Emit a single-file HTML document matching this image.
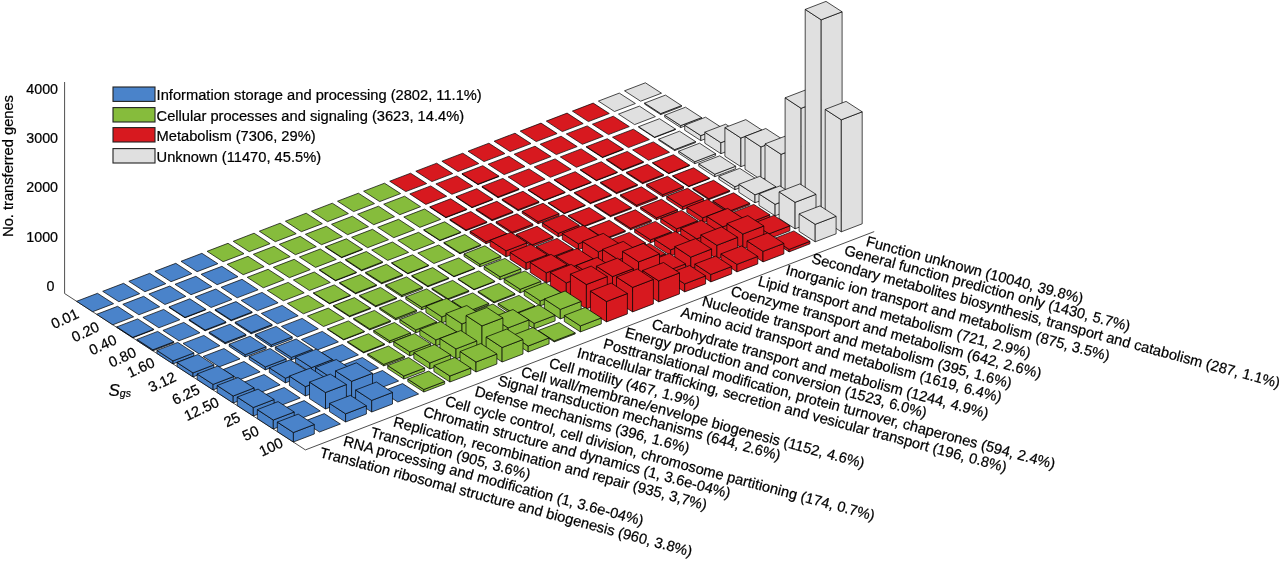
<!DOCTYPE html>
<html><head><meta charset="utf-8"><title>Transferred genes by functional category</title>
<style>
html,body{margin:0;padding:0;background:#fff;}
body{width:1280px;height:561px;overflow:hidden;}
svg{display:block;}
text{font-family:"Liberation Sans",Arial,sans-serif;fill:#000;stroke:#000;stroke-width:0.22px;}
</style></head><body>
<svg width="1280" height="561" viewBox="0 0 1280 561">
<rect width="1280" height="561" fill="#fff"/>
<line x1="64.6" y1="293.5" x2="64.6" y2="82.0" stroke="#3a3a3a" stroke-width="0.9"/>
<line x1="64.6" y1="293.5" x2="305.4" y2="449.9" stroke="#3a3a3a" stroke-width="0.9"/>
<line x1="305.4" y1="449.9" x2="874.2" y2="231.6" stroke="#3a3a3a" stroke-width="0.9"/>
<g stroke="#000" stroke-width="0.7" stroke-linejoin="round">
<polygon points="624.5,90.8 645.4,82.8 661.5,93.2 640.6,101.2" fill="#e0e0e0"/>
<polygon points="598.4,101.1 619.3,93.1 635.4,103.5 614.5,111.5" fill="#e0e0e0"/>
<polygon points="572.4,111.1 593.2,103.1 609.3,113.5 588.4,121.6" fill="#d7191f"/>
<polygon points="546.3,121.1 567.1,113.1 583.2,123.6 562.3,131.6" fill="#d7191f"/>
<polygon points="520.2,131.1 541.0,123.1 557.1,133.6 536.2,141.6" fill="#d7191f"/>
<polygon points="494.1,141.2 515.0,133.2 531.0,143.6 510.1,151.6" fill="#d7191f"/>
<polygon points="468.0,151.2 488.9,143.2 504.9,153.6 484.0,161.6" fill="#d7191f"/>
<polygon points="441.9,161.2 462.8,153.2 478.8,163.6 458.0,171.6" fill="#d7191f"/>
<polygon points="415.8,171.2 436.7,163.2 452.7,173.6 431.9,181.6" fill="#d7191f"/>
<polygon points="389.7,181.2 410.6,173.2 426.7,183.6 405.8,191.6" fill="#d7191f"/>
<polygon points="363.6,191.2 384.5,183.2 400.6,193.6 379.7,201.6" fill="#86bc3c"/>
<polygon points="337.5,201.2 358.4,193.2 374.5,203.6 353.6,211.6" fill="#86bc3c"/>
<polygon points="311.5,211.2 332.3,203.2 348.4,213.6 327.5,221.7" fill="#86bc3c"/>
<polygon points="285.4,221.2 306.2,213.2 322.3,223.7 301.4,231.7" fill="#86bc3c"/>
<polygon points="259.3,231.2 280.1,223.2 296.2,233.7 275.3,241.7" fill="#86bc3c"/>
<polygon points="233.2,241.3 254.1,233.2 270.1,243.7 249.2,251.7" fill="#86bc3c"/>
<polygon points="207.1,251.3 228.0,243.3 244.0,253.7 223.1,261.7" fill="#86bc3c"/>
<polygon points="181.0,261.3 201.9,253.3 217.9,263.7 197.1,271.7" fill="#4a83ca"/>
<polygon points="154.9,271.3 175.8,263.3 191.8,273.7 171.0,281.7" fill="#4a83ca"/>
<polygon points="128.8,281.3 149.7,273.3 165.8,283.7 144.9,291.7" fill="#4a83ca"/>
<polygon points="102.7,291.3 123.6,283.3 139.7,293.7 118.8,301.7" fill="#4a83ca"/>
<polygon points="76.6,301.3 97.5,293.3 113.6,303.7 92.7,311.7" fill="#4a83ca"/>
<polygon points="644.6,104.1 660.7,114.6 660.7,113.6 644.6,103.1" fill="#e0e0e0"/>
<polygon points="660.7,114.6 681.5,106.6 681.5,105.6 660.7,113.6" fill="#e0e0e0"/>
<polygon points="644.6,103.1 665.5,95.1 681.5,105.6 660.7,113.6" fill="#e0e0e0"/>
<polygon points="618.5,114.1 639.4,106.1 655.4,116.6 634.6,124.6" fill="#e0e0e0"/>
<polygon points="592.4,124.2 613.3,116.2 629.3,126.6 608.5,134.6" fill="#d7191f"/>
<polygon points="566.3,133.9 587.2,125.9 603.3,136.3 582.4,144.3" fill="#d7191f"/>
<polygon points="540.2,144.2 561.1,136.2 577.2,146.6 556.3,154.6" fill="#d7191f"/>
<polygon points="514.2,154.2 535.0,146.2 551.1,156.6 530.2,164.6" fill="#d7191f"/>
<polygon points="488.1,164.2 508.9,156.2 525.0,166.6 504.1,174.6" fill="#d7191f"/>
<polygon points="462.0,174.2 478.0,184.6 478.0,184.1 462.0,173.7" fill="#d7191f"/>
<polygon points="478.0,184.6 498.9,176.6 498.9,176.1 478.0,184.1" fill="#d7191f"/>
<polygon points="462.0,173.7 482.8,165.7 498.9,176.1 478.0,184.1" fill="#d7191f"/>
<polygon points="435.9,183.9 456.8,175.9 472.8,186.3 451.9,194.3" fill="#d7191f"/>
<polygon points="409.8,193.9 430.7,185.9 446.7,196.3 425.8,204.4" fill="#d7191f"/>
<polygon points="383.7,204.2 404.6,196.2 420.6,206.7 399.8,214.7" fill="#86bc3c"/>
<polygon points="357.6,214.2 378.5,206.2 394.5,216.7 373.7,224.7" fill="#86bc3c"/>
<polygon points="331.5,224.3 352.4,216.2 368.5,226.7 347.6,234.7" fill="#86bc3c"/>
<polygon points="305.4,234.3 326.3,226.3 342.4,236.7 321.5,244.7" fill="#86bc3c"/>
<polygon points="279.3,244.3 300.2,236.3 316.3,246.7 295.4,254.7" fill="#86bc3c"/>
<polygon points="253.3,254.3 274.1,246.3 290.2,256.7 269.3,264.7" fill="#86bc3c"/>
<polygon points="227.2,264.3 248.0,256.3 264.1,266.7 243.2,274.7" fill="#86bc3c"/>
<polygon points="201.1,274.3 221.9,266.3 238.0,276.7 217.1,284.7" fill="#4a83ca"/>
<polygon points="175.0,284.3 195.9,276.3 211.9,286.7 191.0,294.7" fill="#4a83ca"/>
<polygon points="148.9,294.0 169.8,286.0 185.8,296.4 164.9,304.5" fill="#4a83ca"/>
<polygon points="122.8,304.3 143.7,296.3 159.7,306.8 138.9,314.8" fill="#4a83ca"/>
<polygon points="96.7,314.3 117.6,306.3 133.6,316.8 112.8,324.8" fill="#4a83ca"/>
<polygon points="664.7,117.2 680.7,127.6 680.7,125.6 664.7,115.2" fill="#e0e0e0"/>
<polygon points="680.7,127.6 701.6,119.6 701.6,117.6 680.7,125.6" fill="#e0e0e0"/>
<polygon points="664.7,115.2 685.5,107.2 701.6,117.6 680.7,125.6" fill="#e0e0e0"/>
<polygon points="638.6,127.2 654.6,137.6 654.6,137.1 638.6,126.7" fill="#e0e0e0"/>
<polygon points="654.6,137.6 675.5,129.6 675.5,129.1 654.6,137.1" fill="#e0e0e0"/>
<polygon points="638.6,126.7 659.5,118.7 675.5,129.1 654.6,137.1" fill="#e0e0e0"/>
<polygon points="612.5,137.2 633.4,129.2 649.4,139.6 628.5,147.6" fill="#d7191f"/>
<polygon points="586.4,147.2 602.5,157.6 602.5,157.1 586.4,146.7" fill="#d7191f"/>
<polygon points="602.5,157.6 623.3,149.6 623.3,149.1 602.5,157.1" fill="#d7191f"/>
<polygon points="586.4,146.7 607.3,138.7 623.3,149.1 602.5,157.1" fill="#d7191f"/>
<polygon points="560.3,156.9 581.2,148.9 597.2,159.3 576.4,167.3" fill="#d7191f"/>
<polygon points="534.2,166.9 555.1,158.9 571.1,169.3 550.3,177.3" fill="#d7191f"/>
<polygon points="508.1,176.9 529.0,168.9 545.1,179.3 524.2,187.4" fill="#d7191f"/>
<polygon points="482.0,187.2 498.1,197.7 498.1,196.9 482.0,186.4" fill="#d7191f"/>
<polygon points="498.1,197.7 519.0,189.7 519.0,188.9 498.1,196.9" fill="#d7191f"/>
<polygon points="482.0,186.4 502.9,178.4 519.0,188.9 498.1,196.9" fill="#d7191f"/>
<polygon points="456.0,197.2 472.0,207.7 472.0,207.2 456.0,196.7" fill="#d7191f"/>
<polygon points="472.0,207.7 492.9,199.7 492.9,199.2 472.0,207.2" fill="#d7191f"/>
<polygon points="456.0,196.7 476.8,188.7 492.9,199.2 472.0,207.2" fill="#d7191f"/>
<polygon points="429.9,207.3 445.9,217.7 445.9,217.2 429.9,206.8" fill="#d7191f"/>
<polygon points="445.9,217.7 466.8,209.7 466.8,209.2 445.9,217.2" fill="#d7191f"/>
<polygon points="429.9,206.8 450.7,198.8 466.8,209.2 445.9,217.2" fill="#d7191f"/>
<polygon points="403.8,217.0 424.6,209.0 440.7,219.4 419.8,227.4" fill="#86bc3c"/>
<polygon points="377.7,227.3 398.6,219.3 414.6,229.7 393.7,237.7" fill="#86bc3c"/>
<polygon points="351.6,237.3 372.5,229.3 388.5,239.7 367.6,247.7" fill="#86bc3c"/>
<polygon points="325.5,247.3 341.6,257.7 341.6,257.2 325.5,246.8" fill="#86bc3c"/>
<polygon points="341.6,257.7 362.4,249.7 362.4,249.2 341.6,257.2" fill="#86bc3c"/>
<polygon points="325.5,246.8 346.4,238.8 362.4,249.2 341.6,257.2" fill="#86bc3c"/>
<polygon points="299.4,257.0 320.3,249.0 336.3,259.4 315.5,267.4" fill="#86bc3c"/>
<polygon points="273.3,267.3 294.2,259.3 310.2,269.7 289.4,277.7" fill="#86bc3c"/>
<polygon points="247.2,277.3 268.1,269.3 284.2,279.7 263.3,287.8" fill="#86bc3c"/>
<polygon points="221.1,287.3 242.0,279.3 258.1,289.8 237.2,297.8" fill="#4a83ca"/>
<polygon points="195.1,297.0 215.9,289.0 232.0,299.5 211.1,307.5" fill="#4a83ca"/>
<polygon points="169.0,307.4 185.0,317.8 185.0,317.3 169.0,306.9" fill="#4a83ca"/>
<polygon points="185.0,317.8 205.9,309.8 205.9,309.3 185.0,317.3" fill="#4a83ca"/>
<polygon points="169.0,306.9 189.8,298.8 205.9,309.3 185.0,317.3" fill="#4a83ca"/>
<polygon points="142.9,317.4 163.7,309.4 179.8,319.8 158.9,327.8" fill="#4a83ca"/>
<polygon points="116.8,327.4 132.8,337.8 132.8,337.3 116.8,326.9" fill="#4a83ca"/>
<polygon points="132.8,337.8 153.7,329.8 153.7,329.3 132.8,337.3" fill="#4a83ca"/>
<polygon points="116.8,326.9 137.7,318.9 153.7,329.3 132.8,337.3" fill="#4a83ca"/>
<polygon points="684.7,130.2 700.8,140.6 700.8,135.6 684.7,125.2" fill="#e0e0e0"/>
<polygon points="700.8,140.6 721.7,132.6 721.7,127.6 700.8,135.6" fill="#e0e0e0"/>
<polygon points="684.7,125.2 705.6,117.2 721.7,127.6 700.8,135.6" fill="#e0e0e0"/>
<polygon points="658.7,140.2 674.7,150.6 674.7,149.6 658.7,139.2" fill="#e0e0e0"/>
<polygon points="674.7,150.6 695.6,142.6 695.6,141.6 674.7,149.6" fill="#e0e0e0"/>
<polygon points="658.7,139.2 679.5,131.2 695.6,141.6 674.7,149.6" fill="#e0e0e0"/>
<polygon points="632.6,149.9 653.4,141.9 669.5,152.3 648.6,160.3" fill="#d7191f"/>
<polygon points="606.5,160.2 622.5,170.7 622.5,169.9 606.5,159.4" fill="#d7191f"/>
<polygon points="622.5,170.7 643.4,162.6 643.4,161.8 622.5,169.9" fill="#d7191f"/>
<polygon points="606.5,159.4 627.3,151.4 643.4,161.8 622.5,169.9" fill="#d7191f"/>
<polygon points="580.4,170.2 596.4,180.7 596.4,180.2 580.4,169.7" fill="#d7191f"/>
<polygon points="596.4,180.7 617.3,172.7 617.3,172.2 596.4,180.2" fill="#d7191f"/>
<polygon points="580.4,169.7 601.3,161.7 617.3,172.2 596.4,180.2" fill="#d7191f"/>
<polygon points="554.3,180.2 570.3,190.7 570.3,190.2 554.3,179.7" fill="#d7191f"/>
<polygon points="570.3,190.7 591.2,182.7 591.2,182.2 570.3,190.2" fill="#d7191f"/>
<polygon points="554.3,179.7 575.2,171.7 591.2,182.2 570.3,190.2" fill="#d7191f"/>
<polygon points="528.2,190.3 544.3,200.7 544.3,200.2 528.2,189.8" fill="#d7191f"/>
<polygon points="544.3,200.7 565.1,192.7 565.1,192.2 544.3,200.2" fill="#d7191f"/>
<polygon points="528.2,189.8 549.1,181.8 565.1,192.2 544.3,200.2" fill="#d7191f"/>
<polygon points="502.1,200.3 518.2,210.7 518.2,209.7 502.1,199.3" fill="#d7191f"/>
<polygon points="518.2,210.7 539.0,202.7 539.0,201.7 518.2,209.7" fill="#d7191f"/>
<polygon points="502.1,199.3 523.0,191.3 539.0,201.7 518.2,209.7" fill="#d7191f"/>
<polygon points="476.0,210.3 492.1,220.7 492.1,219.7 476.0,209.3" fill="#d7191f"/>
<polygon points="492.1,220.7 513.0,212.7 513.0,211.7 492.1,219.7" fill="#d7191f"/>
<polygon points="476.0,209.3 496.9,201.3 513.0,211.7 492.1,219.7" fill="#d7191f"/>
<polygon points="449.9,220.3 466.0,230.7 466.0,229.9 449.9,219.5" fill="#d7191f"/>
<polygon points="466.0,230.7 486.9,222.7 486.9,221.9 466.0,229.9" fill="#d7191f"/>
<polygon points="449.9,219.5 470.8,211.5 486.9,221.9 466.0,229.9" fill="#d7191f"/>
<polygon points="423.8,230.3 439.9,240.7 439.9,240.2 423.8,229.8" fill="#86bc3c"/>
<polygon points="439.9,240.7 460.8,232.7 460.8,232.2 439.9,240.2" fill="#86bc3c"/>
<polygon points="423.8,229.8 444.7,221.8 460.8,232.2 439.9,240.2" fill="#86bc3c"/>
<polygon points="397.8,240.3 418.6,232.3 434.7,242.7 413.8,250.7" fill="#86bc3c"/>
<polygon points="371.7,250.0 392.5,242.0 408.6,252.4 387.7,260.4" fill="#86bc3c"/>
<polygon points="345.6,260.3 361.6,270.8 361.6,270.0 345.6,259.5" fill="#86bc3c"/>
<polygon points="361.6,270.8 382.5,262.7 382.5,261.9 361.6,270.0" fill="#86bc3c"/>
<polygon points="345.6,259.5 366.4,251.5 382.5,261.9 361.6,270.0" fill="#86bc3c"/>
<polygon points="319.5,270.3 335.5,280.8 335.5,280.3 319.5,269.8" fill="#86bc3c"/>
<polygon points="335.5,280.8 356.4,272.8 356.4,272.3 335.5,280.3" fill="#86bc3c"/>
<polygon points="319.5,269.8 340.4,261.8 356.4,272.3 335.5,280.3" fill="#86bc3c"/>
<polygon points="293.4,280.0 314.3,272.0 330.3,282.5 309.4,290.5" fill="#86bc3c"/>
<polygon points="267.3,290.4 288.2,282.4 304.2,292.8 283.4,300.8" fill="#86bc3c"/>
<polygon points="241.2,300.4 262.1,292.4 278.1,302.8 257.3,310.8" fill="#4a83ca"/>
<polygon points="215.1,310.4 231.2,320.8 231.2,320.0 215.1,309.6" fill="#4a83ca"/>
<polygon points="231.2,320.8 252.1,312.8 252.1,312.0 231.2,320.0" fill="#4a83ca"/>
<polygon points="215.1,309.6 236.0,301.6 252.1,312.0 231.2,320.0" fill="#4a83ca"/>
<polygon points="189.0,320.4 205.1,330.8 205.1,330.0 189.0,319.6" fill="#4a83ca"/>
<polygon points="205.1,330.8 226.0,322.8 226.0,322.0 205.1,330.0" fill="#4a83ca"/>
<polygon points="189.0,319.6 209.9,311.6 226.0,322.0 205.1,330.0" fill="#4a83ca"/>
<polygon points="162.9,330.4 183.8,322.4 199.9,332.8 179.0,340.8" fill="#4a83ca"/>
<polygon points="136.9,340.4 152.9,350.8 152.9,349.8 136.9,339.4" fill="#4a83ca"/>
<polygon points="152.9,350.8 173.8,342.8 173.8,341.8 152.9,349.8" fill="#4a83ca"/>
<polygon points="136.9,339.4 157.7,331.4 173.8,341.8 152.9,349.8" fill="#4a83ca"/>
<polygon points="704.8,143.2 720.9,153.7 720.9,142.7 704.8,132.2" fill="#e0e0e0"/>
<polygon points="720.9,153.7 741.7,145.6 741.7,134.6 720.9,142.7" fill="#e0e0e0"/>
<polygon points="704.8,132.2 725.7,124.2 741.7,134.6 720.9,142.7" fill="#e0e0e0"/>
<polygon points="678.7,153.2 694.8,163.7 694.8,161.7 678.7,151.2" fill="#e0e0e0"/>
<polygon points="694.8,163.7 715.6,155.7 715.6,153.7 694.8,161.7" fill="#e0e0e0"/>
<polygon points="678.7,151.2 699.6,143.2 715.6,153.7 694.8,161.7" fill="#e0e0e0"/>
<polygon points="652.6,163.2 668.7,173.7 668.7,173.2 652.6,162.7" fill="#d7191f"/>
<polygon points="668.7,173.7 689.6,165.7 689.6,165.2 668.7,173.2" fill="#d7191f"/>
<polygon points="652.6,162.7 673.5,154.7 689.6,165.2 668.7,173.2" fill="#d7191f"/>
<polygon points="626.5,173.3 642.6,183.7 642.6,182.7 626.5,172.3" fill="#d7191f"/>
<polygon points="642.6,183.7 663.5,175.7 663.5,174.7 642.6,182.7" fill="#d7191f"/>
<polygon points="626.5,172.3 647.4,164.3 663.5,174.7 642.6,182.7" fill="#d7191f"/>
<polygon points="600.5,183.3 616.5,193.7 616.5,192.7 600.5,182.3" fill="#d7191f"/>
<polygon points="616.5,193.7 637.4,185.7 637.4,184.7 616.5,192.7" fill="#d7191f"/>
<polygon points="600.5,182.3 621.3,174.3 637.4,184.7 616.5,192.7" fill="#d7191f"/>
<polygon points="574.4,193.3 590.4,203.7 590.4,202.9 574.4,192.5" fill="#d7191f"/>
<polygon points="590.4,203.7 611.3,195.7 611.3,194.9 590.4,202.9" fill="#d7191f"/>
<polygon points="574.4,192.5 595.2,184.5 611.3,194.9 590.4,202.9" fill="#d7191f"/>
<polygon points="548.3,203.3 564.3,213.7 564.3,213.2 548.3,202.8" fill="#d7191f"/>
<polygon points="564.3,213.7 585.2,205.7 585.2,205.2 564.3,213.2" fill="#d7191f"/>
<polygon points="548.3,202.8 569.1,194.8 585.2,205.2 564.3,213.2" fill="#d7191f"/>
<polygon points="522.2,213.3 538.2,223.7 538.2,221.7 522.2,211.3" fill="#d7191f"/>
<polygon points="538.2,223.7 559.1,215.7 559.1,213.7 538.2,221.7" fill="#d7191f"/>
<polygon points="522.2,211.3 543.1,203.3 559.1,213.7 538.2,221.7" fill="#d7191f"/>
<polygon points="496.1,223.3 512.1,233.7 512.1,232.2 496.1,221.8" fill="#d7191f"/>
<polygon points="512.1,233.7 533.0,225.7 533.0,224.2 512.1,232.2" fill="#d7191f"/>
<polygon points="496.1,221.8 517.0,213.8 533.0,224.2 512.1,232.2" fill="#d7191f"/>
<polygon points="470.0,233.3 486.1,243.7 486.1,241.7 470.0,231.3" fill="#d7191f"/>
<polygon points="486.1,243.7 506.9,235.7 506.9,233.7 486.1,241.7" fill="#d7191f"/>
<polygon points="470.0,231.3 490.9,223.3 506.9,233.7 486.1,241.7" fill="#d7191f"/>
<polygon points="443.9,243.3 460.0,253.8 460.0,253.0 443.9,242.5" fill="#86bc3c"/>
<polygon points="460.0,253.8 480.8,245.7 480.8,244.9 460.0,253.0" fill="#86bc3c"/>
<polygon points="443.9,242.5 464.8,234.5 480.8,244.9 460.0,253.0" fill="#86bc3c"/>
<polygon points="417.8,253.0 438.7,245.0 454.8,255.5 433.9,263.5" fill="#86bc3c"/>
<polygon points="391.7,263.3 407.8,273.8 407.8,273.3 391.7,262.8" fill="#86bc3c"/>
<polygon points="407.8,273.8 428.7,265.8 428.7,265.3 407.8,273.3" fill="#86bc3c"/>
<polygon points="391.7,262.8 412.6,254.8 428.7,265.3 407.8,273.3" fill="#86bc3c"/>
<polygon points="365.6,273.4 381.7,283.8 381.7,282.8 365.6,272.4" fill="#86bc3c"/>
<polygon points="381.7,283.8 402.6,275.8 402.6,274.8 381.7,282.8" fill="#86bc3c"/>
<polygon points="365.6,272.4 386.5,264.3 402.6,274.8 381.7,282.8" fill="#86bc3c"/>
<polygon points="339.6,283.4 355.6,293.8 355.6,293.0 339.6,282.6" fill="#86bc3c"/>
<polygon points="355.6,293.8 376.5,285.8 376.5,285.0 355.6,293.0" fill="#86bc3c"/>
<polygon points="339.6,282.6 360.4,274.6 376.5,285.0 355.6,293.0" fill="#86bc3c"/>
<polygon points="313.5,293.4 329.5,303.8 329.5,303.3 313.5,292.9" fill="#86bc3c"/>
<polygon points="329.5,303.8 350.4,295.8 350.4,295.3 329.5,303.3" fill="#86bc3c"/>
<polygon points="313.5,292.9 334.3,284.9 350.4,295.3 329.5,303.3" fill="#86bc3c"/>
<polygon points="287.4,303.4 308.2,295.4 324.3,305.8 303.4,313.8" fill="#86bc3c"/>
<polygon points="261.3,313.4 282.2,305.4 298.2,315.8 277.3,323.8" fill="#4a83ca"/>
<polygon points="235.2,323.4 251.2,333.8 251.2,332.6 235.2,322.2" fill="#4a83ca"/>
<polygon points="251.2,333.8 272.1,325.8 272.1,324.6 251.2,332.6" fill="#4a83ca"/>
<polygon points="235.2,322.2 256.1,314.2 272.1,324.6 251.2,332.6" fill="#4a83ca"/>
<polygon points="209.1,333.4 225.2,343.8 225.2,342.6 209.1,332.2" fill="#4a83ca"/>
<polygon points="225.2,343.8 246.0,335.8 246.0,334.6 225.2,342.6" fill="#4a83ca"/>
<polygon points="209.1,332.2 230.0,324.2 246.0,334.6 225.2,342.6" fill="#4a83ca"/>
<polygon points="183.0,343.4 203.9,335.4 219.9,345.8 199.1,353.9" fill="#4a83ca"/>
<polygon points="156.9,353.4 173.0,363.9 173.0,360.9 156.9,350.4" fill="#4a83ca"/>
<polygon points="173.0,363.9 193.9,355.9 193.9,352.9 173.0,360.9" fill="#4a83ca"/>
<polygon points="156.9,350.4 177.8,342.4 193.9,352.9 173.0,360.9" fill="#4a83ca"/>
<polygon points="724.9,156.3 740.9,166.7 740.9,138.0 724.9,127.6" fill="#e0e0e0"/>
<polygon points="740.9,166.7 761.8,158.7 761.8,130.0 740.9,138.0" fill="#e0e0e0"/>
<polygon points="724.9,127.6 745.8,119.6 761.8,130.0 740.9,138.0" fill="#e0e0e0"/>
<polygon points="698.8,166.3 714.8,176.7 714.8,174.2 698.8,163.8" fill="#e0e0e0"/>
<polygon points="714.8,176.7 735.7,168.7 735.7,166.2 714.8,174.2" fill="#e0e0e0"/>
<polygon points="698.8,163.8 719.7,155.8 735.7,166.2 714.8,174.2" fill="#e0e0e0"/>
<polygon points="672.7,176.3 688.8,186.7 688.8,186.2 672.7,175.8" fill="#d7191f"/>
<polygon points="688.8,186.7 709.6,178.7 709.6,178.2 688.8,186.2" fill="#d7191f"/>
<polygon points="672.7,175.8 693.6,167.8 709.6,178.2 688.8,186.2" fill="#d7191f"/>
<polygon points="646.6,186.3 662.7,196.7 662.7,194.7 646.6,184.3" fill="#d7191f"/>
<polygon points="662.7,196.7 683.5,188.7 683.5,186.7 662.7,194.7" fill="#d7191f"/>
<polygon points="646.6,184.3 667.5,176.3 683.5,186.7 662.7,194.7" fill="#d7191f"/>
<polygon points="620.5,196.3 636.6,206.7 636.6,205.2 620.5,194.8" fill="#d7191f"/>
<polygon points="636.6,206.7 657.4,198.7 657.4,197.2 636.6,205.2" fill="#d7191f"/>
<polygon points="620.5,194.8 641.4,186.8 657.4,197.2 636.6,205.2" fill="#d7191f"/>
<polygon points="594.4,206.3 610.5,216.7 610.5,215.7 594.4,205.3" fill="#d7191f"/>
<polygon points="610.5,216.7 631.4,208.7 631.4,207.7 610.5,215.7" fill="#d7191f"/>
<polygon points="594.4,205.3 615.3,197.3 631.4,207.7 610.5,215.7" fill="#d7191f"/>
<polygon points="568.3,216.3 584.4,226.7 584.4,225.9 568.3,215.5" fill="#d7191f"/>
<polygon points="584.4,226.7 605.3,218.7 605.3,217.9 584.4,225.9" fill="#d7191f"/>
<polygon points="568.3,215.5 589.2,207.5 605.3,217.9 584.4,225.9" fill="#d7191f"/>
<polygon points="542.3,226.3 558.3,236.8 558.3,233.3 542.3,222.8" fill="#d7191f"/>
<polygon points="558.3,236.8 579.2,228.7 579.2,225.2 558.3,233.3" fill="#d7191f"/>
<polygon points="542.3,222.8 563.1,214.8 579.2,225.2 558.3,233.3" fill="#d7191f"/>
<polygon points="516.2,236.3 532.2,246.8 532.2,244.8 516.2,234.3" fill="#d7191f"/>
<polygon points="532.2,246.8 553.1,238.8 553.1,236.8 532.2,244.8" fill="#d7191f"/>
<polygon points="516.2,234.3 537.0,226.3 553.1,236.8 532.2,244.8" fill="#d7191f"/>
<polygon points="490.1,246.3 506.1,256.8 506.1,250.8 490.1,240.3" fill="#d7191f"/>
<polygon points="506.1,256.8 527.0,248.8 527.0,242.8 506.1,250.8" fill="#d7191f"/>
<polygon points="490.1,240.3 510.9,232.3 527.0,242.8 506.1,250.8" fill="#d7191f"/>
<polygon points="464.0,256.4 480.0,266.8 480.0,264.3 464.0,253.9" fill="#86bc3c"/>
<polygon points="480.0,266.8 500.9,258.8 500.9,256.3 480.0,264.3" fill="#86bc3c"/>
<polygon points="464.0,253.9 484.9,245.8 500.9,256.3 480.0,264.3" fill="#86bc3c"/>
<polygon points="437.9,266.4 453.9,276.8 453.9,276.3 437.9,265.9" fill="#86bc3c"/>
<polygon points="453.9,276.8 474.8,268.8 474.8,268.3 453.9,276.3" fill="#86bc3c"/>
<polygon points="437.9,265.9 458.8,257.9 474.8,268.3 453.9,276.3" fill="#86bc3c"/>
<polygon points="411.8,276.4 427.9,286.8 427.9,286.0 411.8,275.6" fill="#86bc3c"/>
<polygon points="427.9,286.8 448.7,278.8 448.7,278.0 427.9,286.0" fill="#86bc3c"/>
<polygon points="411.8,275.6 432.7,267.6 448.7,278.0 427.9,286.0" fill="#86bc3c"/>
<polygon points="385.7,286.4 401.8,296.8 401.8,295.3 385.7,284.9" fill="#86bc3c"/>
<polygon points="401.8,296.8 422.6,288.8 422.6,287.3 401.8,295.3" fill="#86bc3c"/>
<polygon points="385.7,284.9 406.6,276.9 422.6,287.3 401.8,295.3" fill="#86bc3c"/>
<polygon points="359.6,296.4 375.7,306.8 375.7,305.8 359.6,295.4" fill="#86bc3c"/>
<polygon points="375.7,306.8 396.5,298.8 396.5,297.8 375.7,305.8" fill="#86bc3c"/>
<polygon points="359.6,295.4 380.5,287.4 396.5,297.8 375.7,305.8" fill="#86bc3c"/>
<polygon points="333.5,306.4 349.6,316.8 349.6,316.0 333.5,305.6" fill="#86bc3c"/>
<polygon points="349.6,316.8 370.5,308.8 370.5,308.0 349.6,316.0" fill="#86bc3c"/>
<polygon points="333.5,305.6 354.4,297.6 370.5,308.0 349.6,316.0" fill="#86bc3c"/>
<polygon points="307.4,316.1 328.3,308.1 344.4,318.5 323.5,326.5" fill="#86bc3c"/>
<polygon points="281.4,326.4 302.2,318.4 318.3,328.8 297.4,336.9" fill="#4a83ca"/>
<polygon points="255.3,336.4 271.3,346.9 271.3,344.9 255.3,334.4" fill="#4a83ca"/>
<polygon points="271.3,346.9 292.2,338.9 292.2,336.9 271.3,344.9" fill="#4a83ca"/>
<polygon points="255.3,334.4 276.1,326.4 292.2,336.9 271.3,344.9" fill="#4a83ca"/>
<polygon points="229.2,346.4 245.2,356.9 245.2,354.7 229.2,344.2" fill="#4a83ca"/>
<polygon points="245.2,356.9 266.1,348.9 266.1,346.7 245.2,354.7" fill="#4a83ca"/>
<polygon points="229.2,344.2 250.0,336.2 266.1,346.7 245.2,354.7" fill="#4a83ca"/>
<polygon points="203.1,356.5 224.0,348.5 240.0,358.9 219.1,366.9" fill="#4a83ca"/>
<polygon points="177.0,366.5 193.0,376.9 193.0,372.9 177.0,362.5" fill="#4a83ca"/>
<polygon points="193.0,376.9 213.9,368.9 213.9,364.9 193.0,372.9" fill="#4a83ca"/>
<polygon points="177.0,362.5 197.9,354.5 213.9,364.9 193.0,372.9" fill="#4a83ca"/>
<polygon points="745.0,169.3 761.0,179.7 761.0,146.9 745.0,136.5" fill="#e0e0e0"/>
<polygon points="761.0,179.7 781.9,171.7 781.9,138.9 761.0,146.9" fill="#e0e0e0"/>
<polygon points="745.0,136.5 765.8,128.5 781.9,138.9 761.0,146.9" fill="#e0e0e0"/>
<polygon points="718.9,179.3 734.9,189.7 734.9,186.7 718.9,176.3" fill="#e0e0e0"/>
<polygon points="734.9,189.7 755.8,181.7 755.8,178.7 734.9,186.7" fill="#e0e0e0"/>
<polygon points="718.9,176.3 739.7,168.3 755.8,178.7 734.9,186.7" fill="#e0e0e0"/>
<polygon points="692.8,189.3 708.8,199.7 708.8,198.7 692.8,188.3" fill="#d7191f"/>
<polygon points="708.8,199.7 729.7,191.7 729.7,190.7 708.8,198.7" fill="#d7191f"/>
<polygon points="692.8,188.3 713.6,180.3 729.7,190.7 708.8,198.7" fill="#d7191f"/>
<polygon points="666.7,199.3 682.7,209.7 682.7,206.7 666.7,196.3" fill="#d7191f"/>
<polygon points="682.7,209.7 703.6,201.7 703.6,198.7 682.7,206.7" fill="#d7191f"/>
<polygon points="666.7,196.3 687.6,188.3 703.6,198.7 682.7,206.7" fill="#d7191f"/>
<polygon points="640.6,209.3 656.6,219.8 656.6,217.8 640.6,207.3" fill="#d7191f"/>
<polygon points="656.6,219.8 677.5,211.7 677.5,209.7 656.6,217.8" fill="#d7191f"/>
<polygon points="640.6,207.3 661.5,199.3 677.5,209.7 656.6,217.8" fill="#d7191f"/>
<polygon points="614.5,219.3 630.6,229.8 630.6,228.3 614.5,217.8" fill="#d7191f"/>
<polygon points="630.6,229.8 651.4,221.8 651.4,220.3 630.6,228.3" fill="#d7191f"/>
<polygon points="614.5,217.8 635.4,209.8 651.4,220.3 630.6,228.3" fill="#d7191f"/>
<polygon points="588.4,229.3 604.5,239.8 604.5,238.8 588.4,228.3" fill="#d7191f"/>
<polygon points="604.5,239.8 625.3,231.8 625.3,230.8 604.5,238.8" fill="#d7191f"/>
<polygon points="588.4,228.3 609.3,220.3 625.3,230.8 604.5,238.8" fill="#d7191f"/>
<polygon points="562.3,239.4 578.4,249.8 578.4,243.8 562.3,233.4" fill="#d7191f"/>
<polygon points="578.4,249.8 599.2,241.8 599.2,235.8 578.4,243.8" fill="#d7191f"/>
<polygon points="562.3,233.4 583.2,225.3 599.2,235.8 578.4,243.8" fill="#d7191f"/>
<polygon points="536.2,249.4 552.3,259.8 552.3,256.8 536.2,246.4" fill="#d7191f"/>
<polygon points="552.3,259.8 573.2,251.8 573.2,248.8 552.3,256.8" fill="#d7191f"/>
<polygon points="536.2,246.4 557.1,238.4 573.2,248.8 552.3,256.8" fill="#d7191f"/>
<polygon points="510.1,259.4 526.2,269.8 526.2,262.8 510.1,252.4" fill="#d7191f"/>
<polygon points="526.2,269.8 547.1,261.8 547.1,254.8 526.2,262.8" fill="#d7191f"/>
<polygon points="510.1,252.4 531.0,244.4 547.1,254.8 526.2,262.8" fill="#d7191f"/>
<polygon points="484.1,269.4 500.1,279.8 500.1,276.8 484.1,266.4" fill="#86bc3c"/>
<polygon points="500.1,279.8 521.0,271.8 521.0,268.8 500.1,276.8" fill="#86bc3c"/>
<polygon points="484.1,266.4 504.9,258.4 521.0,268.8 500.1,276.8" fill="#86bc3c"/>
<polygon points="458.0,279.4 474.0,289.8 474.0,289.3 458.0,278.9" fill="#86bc3c"/>
<polygon points="474.0,289.8 494.9,281.8 494.9,281.3 474.0,289.3" fill="#86bc3c"/>
<polygon points="458.0,278.9 478.8,270.9 494.9,281.3 474.0,289.3" fill="#86bc3c"/>
<polygon points="431.9,289.4 447.9,299.8 447.9,298.8 431.9,288.4" fill="#86bc3c"/>
<polygon points="447.9,299.8 468.8,291.8 468.8,290.8 447.9,298.8" fill="#86bc3c"/>
<polygon points="431.9,288.4 452.7,280.4 468.8,290.8 447.9,298.8" fill="#86bc3c"/>
<polygon points="405.8,299.4 421.8,309.8 421.8,307.3 405.8,296.9" fill="#86bc3c"/>
<polygon points="421.8,309.8 442.7,301.8 442.7,299.3 421.8,307.3" fill="#86bc3c"/>
<polygon points="405.8,296.9 426.7,288.9 442.7,299.3 421.8,307.3" fill="#86bc3c"/>
<polygon points="379.7,309.4 395.7,319.9 395.7,318.4 379.7,307.9" fill="#86bc3c"/>
<polygon points="395.7,319.9 416.6,311.8 416.6,310.3 395.7,318.4" fill="#86bc3c"/>
<polygon points="379.7,307.9 400.6,299.9 416.6,310.3 395.7,318.4" fill="#86bc3c"/>
<polygon points="353.6,319.4 369.7,329.9 369.7,328.9 353.6,318.4" fill="#86bc3c"/>
<polygon points="369.7,329.9 390.5,321.9 390.5,320.9 369.7,328.9" fill="#86bc3c"/>
<polygon points="353.6,318.4 374.5,310.4 390.5,320.9 369.7,328.9" fill="#86bc3c"/>
<polygon points="327.5,329.4 343.6,339.9 343.6,339.4 327.5,328.9" fill="#86bc3c"/>
<polygon points="343.6,339.9 364.4,331.9 364.4,331.4 343.6,339.4" fill="#86bc3c"/>
<polygon points="327.5,328.9 348.4,320.9 364.4,331.4 343.6,339.4" fill="#86bc3c"/>
<polygon points="301.4,339.5 322.3,331.4 338.4,341.9 317.5,349.9" fill="#4a83ca"/>
<polygon points="275.3,349.5 291.4,359.9 291.4,357.4 275.3,347.0" fill="#4a83ca"/>
<polygon points="291.4,359.9 312.3,351.9 312.3,349.4 291.4,357.4" fill="#4a83ca"/>
<polygon points="275.3,347.0 296.2,339.0 312.3,349.4 291.4,357.4" fill="#4a83ca"/>
<polygon points="249.2,359.5 265.3,369.9 265.3,366.9 249.2,356.5" fill="#4a83ca"/>
<polygon points="265.3,369.9 286.2,361.9 286.2,358.9 265.3,366.9" fill="#4a83ca"/>
<polygon points="249.2,356.5 270.1,348.5 286.2,358.9 265.3,366.9" fill="#4a83ca"/>
<polygon points="223.2,369.5 244.0,361.5 260.1,371.9 239.2,379.9" fill="#4a83ca"/>
<polygon points="197.1,379.5 213.1,389.9 213.1,384.4 197.1,374.0" fill="#4a83ca"/>
<polygon points="213.1,389.9 234.0,381.9 234.0,376.4 213.1,384.4" fill="#4a83ca"/>
<polygon points="197.1,374.0 217.9,366.0 234.0,376.4 213.1,384.4" fill="#4a83ca"/>
<polygon points="765.0,182.3 781.1,192.7 781.1,154.3 765.0,143.9" fill="#e0e0e0"/>
<polygon points="781.1,192.7 802.0,184.7 802.0,146.3 781.1,154.3" fill="#e0e0e0"/>
<polygon points="765.0,143.9 785.9,135.9 802.0,146.3 781.1,154.3" fill="#e0e0e0"/>
<polygon points="738.9,192.3 755.0,202.8 755.0,194.8 738.9,184.3" fill="#e0e0e0"/>
<polygon points="755.0,202.8 775.9,194.7 775.9,186.7 755.0,194.8" fill="#e0e0e0"/>
<polygon points="738.9,184.3 759.8,176.3 775.9,186.7 755.0,194.8" fill="#e0e0e0"/>
<polygon points="712.8,202.3 728.9,212.8 728.9,211.3 712.8,200.8" fill="#d7191f"/>
<polygon points="728.9,212.8 749.8,204.8 749.8,203.3 728.9,211.3" fill="#d7191f"/>
<polygon points="712.8,200.8 733.7,192.8 749.8,203.3 728.9,211.3" fill="#d7191f"/>
<polygon points="686.8,212.3 702.8,222.8 702.8,217.8 686.8,207.3" fill="#d7191f"/>
<polygon points="702.8,222.8 723.7,214.8 723.7,209.8 702.8,217.8" fill="#d7191f"/>
<polygon points="686.8,207.3 707.6,199.3 723.7,209.8 702.8,217.8" fill="#d7191f"/>
<polygon points="660.7,222.4 676.7,232.8 676.7,228.8 660.7,218.4" fill="#d7191f"/>
<polygon points="676.7,232.8 697.6,224.8 697.6,220.8 676.7,228.8" fill="#d7191f"/>
<polygon points="660.7,218.4 681.5,210.4 697.6,220.8 676.7,228.8" fill="#d7191f"/>
<polygon points="634.6,232.4 650.6,242.8 650.6,239.8 634.6,229.4" fill="#d7191f"/>
<polygon points="650.6,242.8 671.5,234.8 671.5,231.8 650.6,239.8" fill="#d7191f"/>
<polygon points="634.6,229.4 655.4,221.4 671.5,231.8 650.6,239.8" fill="#d7191f"/>
<polygon points="608.5,242.4 624.5,252.8 624.5,250.8 608.5,240.4" fill="#d7191f"/>
<polygon points="624.5,252.8 645.4,244.8 645.4,242.8 624.5,250.8" fill="#d7191f"/>
<polygon points="608.5,240.4 629.4,232.4 645.4,242.8 624.5,250.8" fill="#d7191f"/>
<polygon points="582.4,252.4 598.4,262.8 598.4,251.8 582.4,241.4" fill="#d7191f"/>
<polygon points="598.4,262.8 619.3,254.8 619.3,243.8 598.4,251.8" fill="#d7191f"/>
<polygon points="582.4,241.4 603.3,233.4 619.3,243.8 598.4,251.8" fill="#d7191f"/>
<polygon points="556.3,262.4 572.4,272.8 572.4,266.8 556.3,256.4" fill="#d7191f"/>
<polygon points="572.4,272.8 593.2,264.8 593.2,258.8 572.4,266.8" fill="#d7191f"/>
<polygon points="556.3,256.4 577.2,248.4 593.2,258.8 572.4,266.8" fill="#d7191f"/>
<polygon points="530.2,272.4 546.3,282.8 546.3,272.8 530.2,262.4" fill="#d7191f"/>
<polygon points="546.3,282.8 567.1,274.8 567.1,264.8 546.3,272.8" fill="#d7191f"/>
<polygon points="530.2,262.4 551.1,254.4 567.1,264.8 546.3,272.8" fill="#d7191f"/>
<polygon points="504.1,282.4 520.2,292.8 520.2,289.3 504.1,278.9" fill="#86bc3c"/>
<polygon points="520.2,292.8 541.0,284.8 541.0,281.3 520.2,289.3" fill="#86bc3c"/>
<polygon points="504.1,278.9 525.0,270.9 541.0,281.3 520.2,289.3" fill="#86bc3c"/>
<polygon points="478.0,292.4 494.1,302.9 494.1,301.9 478.0,291.4" fill="#86bc3c"/>
<polygon points="494.1,302.9 515.0,294.8 515.0,293.8 494.1,301.9" fill="#86bc3c"/>
<polygon points="478.0,291.4 498.9,283.4 515.0,293.8 494.1,301.9" fill="#86bc3c"/>
<polygon points="451.9,302.4 468.0,312.9 468.0,311.4 451.9,300.9" fill="#86bc3c"/>
<polygon points="468.0,312.9 488.9,304.9 488.9,303.4 468.0,311.4" fill="#86bc3c"/>
<polygon points="451.9,300.9 472.8,292.9 488.9,303.4 468.0,311.4" fill="#86bc3c"/>
<polygon points="425.9,312.4 441.9,322.9 441.9,316.9 425.9,306.4" fill="#86bc3c"/>
<polygon points="441.9,322.9 462.8,314.9 462.8,308.9 441.9,316.9" fill="#86bc3c"/>
<polygon points="425.9,306.4 446.7,298.4 462.8,308.9 441.9,316.9" fill="#86bc3c"/>
<polygon points="399.8,322.5 415.8,332.9 415.8,329.9 399.8,319.5" fill="#86bc3c"/>
<polygon points="415.8,332.9 436.7,324.9 436.7,321.9 415.8,329.9" fill="#86bc3c"/>
<polygon points="399.8,319.5 420.6,311.4 436.7,321.9 415.8,329.9" fill="#86bc3c"/>
<polygon points="373.7,332.5 389.7,342.9 389.7,340.9 373.7,330.5" fill="#86bc3c"/>
<polygon points="389.7,342.9 410.6,334.9 410.6,332.9 389.7,340.9" fill="#86bc3c"/>
<polygon points="373.7,330.5 394.5,322.5 410.6,332.9 389.7,340.9" fill="#86bc3c"/>
<polygon points="347.6,342.5 363.6,352.9 363.6,352.1 347.6,341.7" fill="#86bc3c"/>
<polygon points="363.6,352.9 384.5,344.9 384.5,344.1 363.6,352.1" fill="#86bc3c"/>
<polygon points="347.6,341.7 368.5,333.7 384.5,344.1 363.6,352.1" fill="#86bc3c"/>
<polygon points="321.5,352.5 342.4,344.5 358.4,354.9 337.5,362.9" fill="#4a83ca"/>
<polygon points="295.4,362.5 311.5,372.9 311.5,367.6 295.4,357.2" fill="#4a83ca"/>
<polygon points="311.5,372.9 332.3,364.9 332.3,359.6 311.5,367.6" fill="#4a83ca"/>
<polygon points="295.4,357.2 316.3,349.2 332.3,359.6 311.5,367.6" fill="#4a83ca"/>
<polygon points="269.3,372.5 285.4,382.9 285.4,378.2 269.3,367.8" fill="#4a83ca"/>
<polygon points="285.4,382.9 306.2,374.9 306.2,370.2 285.4,378.2" fill="#4a83ca"/>
<polygon points="269.3,367.8 290.2,359.8 306.2,370.2 285.4,378.2" fill="#4a83ca"/>
<polygon points="243.2,382.5 264.1,374.5 280.1,384.9 259.3,392.9" fill="#4a83ca"/>
<polygon points="217.1,392.5 233.2,403.0 233.2,396.0 217.1,385.5" fill="#4a83ca"/>
<polygon points="233.2,403.0 254.1,394.9 254.1,387.9 233.2,396.0" fill="#4a83ca"/>
<polygon points="217.1,385.5 238.0,377.5 254.1,387.9 233.2,396.0" fill="#4a83ca"/>
<polygon points="785.1,195.3 801.1,205.8 801.1,108.3 785.1,97.8" fill="#e0e0e0"/>
<polygon points="801.1,205.8 822.0,197.8 822.0,100.3 801.1,108.3" fill="#e0e0e0"/>
<polygon points="785.1,97.8 806.0,89.8 822.0,100.3 801.1,108.3" fill="#e0e0e0"/>
<polygon points="759.0,205.4 775.1,215.8 775.1,204.3 759.0,193.9" fill="#e0e0e0"/>
<polygon points="775.1,215.8 795.9,207.8 795.9,196.3 775.1,204.3" fill="#e0e0e0"/>
<polygon points="759.0,193.9 779.9,185.9 795.9,196.3 775.1,204.3" fill="#e0e0e0"/>
<polygon points="732.9,215.4 749.0,225.8 749.0,222.8 732.9,212.4" fill="#d7191f"/>
<polygon points="749.0,225.8 769.8,217.8 769.8,214.8 749.0,222.8" fill="#d7191f"/>
<polygon points="732.9,212.4 753.8,204.4 769.8,214.8 749.0,222.8" fill="#d7191f"/>
<polygon points="706.8,225.4 722.9,235.8 722.9,226.8 706.8,216.4" fill="#d7191f"/>
<polygon points="722.9,235.8 743.7,227.8 743.7,218.8 722.9,226.8" fill="#d7191f"/>
<polygon points="706.8,216.4 727.7,208.4 743.7,218.8 722.9,226.8" fill="#d7191f"/>
<polygon points="680.7,235.4 696.8,245.8 696.8,238.8 680.7,228.4" fill="#d7191f"/>
<polygon points="696.8,245.8 717.7,237.8 717.7,230.8 696.8,238.8" fill="#d7191f"/>
<polygon points="680.7,228.4 701.6,220.4 717.7,230.8 696.8,238.8" fill="#d7191f"/>
<polygon points="654.6,245.4 670.7,255.8 670.7,249.8 654.6,239.4" fill="#d7191f"/>
<polygon points="670.7,255.8 691.6,247.8 691.6,241.8 670.7,249.8" fill="#d7191f"/>
<polygon points="654.6,239.4 675.5,231.4 691.6,241.8 670.7,249.8" fill="#d7191f"/>
<polygon points="628.6,255.4 644.6,265.8 644.6,261.8 628.6,251.4" fill="#d7191f"/>
<polygon points="644.6,265.8 665.5,257.8 665.5,253.8 644.6,261.8" fill="#d7191f"/>
<polygon points="628.6,251.4 649.4,243.4 665.5,253.8 644.6,261.8" fill="#d7191f"/>
<polygon points="602.5,265.4 618.5,275.8 618.5,259.8 602.5,249.4" fill="#d7191f"/>
<polygon points="618.5,275.8 639.4,267.8 639.4,251.8 618.5,259.8" fill="#d7191f"/>
<polygon points="602.5,249.4 623.3,241.4 639.4,251.8 618.5,259.8" fill="#d7191f"/>
<polygon points="576.4,275.4 592.4,285.9 592.4,275.9 576.4,265.4" fill="#d7191f"/>
<polygon points="592.4,285.9 613.3,277.8 613.3,267.8 592.4,275.9" fill="#d7191f"/>
<polygon points="576.4,265.4 597.2,257.4 613.3,267.8 592.4,275.9" fill="#d7191f"/>
<polygon points="550.3,285.4 566.3,295.9 566.3,282.9 550.3,272.4" fill="#d7191f"/>
<polygon points="566.3,295.9 587.2,287.9 587.2,274.9 566.3,282.9" fill="#d7191f"/>
<polygon points="550.3,272.4 571.2,264.4 587.2,274.9 566.3,282.9" fill="#d7191f"/>
<polygon points="524.2,295.4 540.2,305.9 540.2,300.9 524.2,290.4" fill="#86bc3c"/>
<polygon points="540.2,305.9 561.1,297.9 561.1,292.9 540.2,300.9" fill="#86bc3c"/>
<polygon points="524.2,290.4 545.1,282.4 561.1,292.9 540.2,300.9" fill="#86bc3c"/>
<polygon points="498.1,305.5 514.2,315.9 514.2,313.9 498.1,303.5" fill="#86bc3c"/>
<polygon points="514.2,315.9 535.0,307.9 535.0,305.9 514.2,313.9" fill="#86bc3c"/>
<polygon points="498.1,303.5 519.0,295.4 535.0,305.9 514.2,313.9" fill="#86bc3c"/>
<polygon points="472.0,315.5 488.1,325.9 488.1,322.4 472.0,312.0" fill="#86bc3c"/>
<polygon points="488.1,325.9 508.9,317.9 508.9,314.4 488.1,322.4" fill="#86bc3c"/>
<polygon points="472.0,312.0 492.9,304.0 508.9,314.4 488.1,322.4" fill="#86bc3c"/>
<polygon points="445.9,325.5 462.0,335.9 462.0,323.9 445.9,313.5" fill="#86bc3c"/>
<polygon points="462.0,335.9 482.9,327.9 482.9,315.9 462.0,323.9" fill="#86bc3c"/>
<polygon points="445.9,313.5 466.8,305.5 482.9,315.9 462.0,323.9" fill="#86bc3c"/>
<polygon points="419.8,335.5 435.9,345.9 435.9,339.9 419.8,329.5" fill="#86bc3c"/>
<polygon points="435.9,345.9 456.8,337.9 456.8,331.9 435.9,339.9" fill="#86bc3c"/>
<polygon points="419.8,329.5 440.7,321.5 456.8,331.9 435.9,339.9" fill="#86bc3c"/>
<polygon points="393.7,345.5 409.8,355.9 409.8,351.9 393.7,341.5" fill="#86bc3c"/>
<polygon points="409.8,355.9 430.7,347.9 430.7,343.9 409.8,351.9" fill="#86bc3c"/>
<polygon points="393.7,341.5 414.6,333.5 430.7,343.9 409.8,351.9" fill="#86bc3c"/>
<polygon points="367.7,355.5 383.7,365.9 383.7,364.4 367.7,354.0" fill="#86bc3c"/>
<polygon points="383.7,365.9 404.6,357.9 404.6,356.4 383.7,364.4" fill="#86bc3c"/>
<polygon points="367.7,354.0 388.5,346.0 404.6,356.4 383.7,364.4" fill="#86bc3c"/>
<polygon points="341.6,365.5 362.4,357.5 378.5,367.9 357.6,375.9" fill="#4a83ca"/>
<polygon points="315.5,375.5 331.5,386.0 331.5,378.0 315.5,367.5" fill="#4a83ca"/>
<polygon points="331.5,386.0 352.4,377.9 352.4,369.9 331.5,378.0" fill="#4a83ca"/>
<polygon points="315.5,367.5 336.3,359.5 352.4,369.9 331.5,378.0" fill="#4a83ca"/>
<polygon points="289.4,385.5 305.4,396.0 305.4,386.6 289.4,376.1" fill="#4a83ca"/>
<polygon points="305.4,396.0 326.3,388.0 326.3,378.6 305.4,386.6" fill="#4a83ca"/>
<polygon points="289.4,376.1 310.3,368.1 326.3,378.6 305.4,386.6" fill="#4a83ca"/>
<polygon points="263.3,395.5 284.2,387.5 300.2,398.0 279.3,406.0" fill="#4a83ca"/>
<polygon points="237.2,405.6 253.3,416.0 253.3,407.5 237.2,397.1" fill="#4a83ca"/>
<polygon points="253.3,416.0 274.1,408.0 274.1,399.5 253.3,407.5" fill="#4a83ca"/>
<polygon points="237.2,397.1 258.1,389.1 274.1,399.5 253.3,407.5" fill="#4a83ca"/>
<polygon points="805.2,208.4 821.2,218.8 821.2,19.8 805.2,9.4" fill="#e0e0e0"/>
<polygon points="821.2,218.8 842.1,210.8 842.1,11.8 821.2,19.8" fill="#e0e0e0"/>
<polygon points="805.2,9.4 826.0,1.4 842.1,11.8 821.2,19.8" fill="#e0e0e0"/>
<polygon points="779.1,218.4 795.1,228.8 795.1,202.3 779.1,191.9" fill="#e0e0e0"/>
<polygon points="795.1,228.8 816.0,220.8 816.0,194.3 795.1,202.3" fill="#e0e0e0"/>
<polygon points="779.1,191.9 799.9,183.9 816.0,194.3 795.1,202.3" fill="#e0e0e0"/>
<polygon points="753.0,228.4 769.0,238.8 769.0,233.8 753.0,223.4" fill="#d7191f"/>
<polygon points="769.0,238.8 789.9,230.8 789.9,225.8 769.0,233.8" fill="#d7191f"/>
<polygon points="753.0,223.4 773.9,215.4 789.9,225.8 769.0,233.8" fill="#d7191f"/>
<polygon points="726.9,238.4 742.9,248.8 742.9,234.0 726.9,223.6" fill="#d7191f"/>
<polygon points="742.9,248.8 763.8,240.8 763.8,226.0 742.9,234.0" fill="#d7191f"/>
<polygon points="726.9,223.6 747.8,215.6 763.8,226.0 742.9,234.0" fill="#d7191f"/>
<polygon points="700.8,248.4 716.9,258.8 716.9,245.3 700.8,234.9" fill="#d7191f"/>
<polygon points="716.9,258.8 737.7,250.8 737.7,237.3 716.9,245.3" fill="#d7191f"/>
<polygon points="700.8,234.9 721.7,226.9 737.7,237.3 716.9,245.3" fill="#d7191f"/>
<polygon points="674.7,258.4 690.8,268.9 690.8,257.1 674.7,246.6" fill="#d7191f"/>
<polygon points="690.8,268.9 711.6,260.8 711.6,249.0 690.8,257.1" fill="#d7191f"/>
<polygon points="674.7,246.6 695.6,238.6 711.6,249.0 690.8,257.1" fill="#d7191f"/>
<polygon points="648.6,268.4 664.7,278.9 664.7,271.9 648.6,261.4" fill="#d7191f"/>
<polygon points="664.7,278.9 685.5,270.9 685.5,263.9 664.7,271.9" fill="#d7191f"/>
<polygon points="648.6,261.4 669.5,253.4 685.5,263.9 664.7,271.9" fill="#d7191f"/>
<polygon points="622.5,278.4 638.6,288.9 638.6,261.9 622.5,251.4" fill="#d7191f"/>
<polygon points="638.6,288.9 659.5,280.9 659.5,253.9 638.6,261.9" fill="#d7191f"/>
<polygon points="622.5,251.4 643.4,243.4 659.5,253.9 638.6,261.9" fill="#d7191f"/>
<polygon points="596.4,288.5 612.5,298.9 612.5,276.6 596.4,266.2" fill="#d7191f"/>
<polygon points="612.5,298.9 633.4,290.9 633.4,268.6 612.5,276.6" fill="#d7191f"/>
<polygon points="596.4,266.2 617.3,258.1 633.4,268.6 612.5,276.6" fill="#d7191f"/>
<polygon points="570.4,298.5 586.4,308.9 586.4,284.5 570.4,274.1" fill="#d7191f"/>
<polygon points="586.4,308.9 607.3,300.9 607.3,276.5 586.4,284.5" fill="#d7191f"/>
<polygon points="570.4,274.1 591.2,266.1 607.3,276.5 586.4,284.5" fill="#d7191f"/>
<polygon points="544.3,308.5 560.3,318.9 560.3,309.4 544.3,299.0" fill="#86bc3c"/>
<polygon points="560.3,318.9 581.2,310.9 581.2,301.4 560.3,309.4" fill="#86bc3c"/>
<polygon points="544.3,299.0 565.1,291.0 581.2,301.4 560.3,309.4" fill="#86bc3c"/>
<polygon points="518.2,318.5 534.2,328.9 534.2,323.4 518.2,313.0" fill="#86bc3c"/>
<polygon points="534.2,328.9 555.1,320.9 555.1,315.4 534.2,323.4" fill="#86bc3c"/>
<polygon points="518.2,313.0 539.0,305.0 555.1,315.4 534.2,323.4" fill="#86bc3c"/>
<polygon points="492.1,328.5 508.1,338.9 508.1,327.9 492.1,317.5" fill="#86bc3c"/>
<polygon points="508.1,338.9 529.0,330.9 529.0,319.9 508.1,327.9" fill="#86bc3c"/>
<polygon points="492.1,317.5 513.0,309.5 529.0,319.9 508.1,327.9" fill="#86bc3c"/>
<polygon points="466.0,338.5 482.0,348.9 482.0,325.9 466.0,315.5" fill="#86bc3c"/>
<polygon points="482.0,348.9 502.9,340.9 502.9,317.9 482.0,325.9" fill="#86bc3c"/>
<polygon points="466.0,315.5 486.9,307.5 502.9,317.9 482.0,325.9" fill="#86bc3c"/>
<polygon points="439.9,348.5 456.0,358.9 456.0,348.9 439.9,338.5" fill="#86bc3c"/>
<polygon points="456.0,358.9 476.8,350.9 476.8,340.9 456.0,348.9" fill="#86bc3c"/>
<polygon points="439.9,338.5 460.8,330.5 476.8,340.9 456.0,348.9" fill="#86bc3c"/>
<polygon points="413.8,358.5 429.9,369.0 429.9,363.0 413.8,352.5" fill="#86bc3c"/>
<polygon points="429.9,369.0 450.7,360.9 450.7,354.9 429.9,363.0" fill="#86bc3c"/>
<polygon points="413.8,352.5 434.7,344.5 450.7,354.9 429.9,363.0" fill="#86bc3c"/>
<polygon points="387.7,368.5 403.8,379.0 403.8,376.0 387.7,365.5" fill="#86bc3c"/>
<polygon points="403.8,379.0 424.7,371.0 424.7,368.0 403.8,376.0" fill="#86bc3c"/>
<polygon points="387.7,365.5 408.6,357.5 424.7,368.0 403.8,376.0" fill="#86bc3c"/>
<polygon points="361.6,378.5 382.5,370.5 398.6,381.0 377.7,389.0" fill="#4a83ca"/>
<polygon points="335.5,388.6 351.6,399.0 351.6,381.3 335.5,370.9" fill="#4a83ca"/>
<polygon points="351.6,399.0 372.5,391.0 372.5,373.3 351.6,381.3" fill="#4a83ca"/>
<polygon points="335.5,370.9 356.4,362.8 372.5,373.3 351.6,381.3" fill="#4a83ca"/>
<polygon points="309.5,398.6 325.5,409.0 325.5,392.5 309.5,382.1" fill="#4a83ca"/>
<polygon points="325.5,409.0 346.4,401.0 346.4,384.5 325.5,392.5" fill="#4a83ca"/>
<polygon points="309.5,382.1 330.3,374.1 346.4,384.5 325.5,392.5" fill="#4a83ca"/>
<polygon points="283.4,408.6 304.2,400.6 320.3,411.0 299.4,419.0" fill="#4a83ca"/>
<polygon points="257.3,418.6 273.3,429.0 273.3,420.0 257.3,409.6" fill="#4a83ca"/>
<polygon points="273.3,429.0 294.2,421.0 294.2,412.0 273.3,420.0" fill="#4a83ca"/>
<polygon points="257.3,409.6 278.1,401.6 294.2,412.0 273.3,420.0" fill="#4a83ca"/>
<polygon points="825.2,221.4 841.3,231.8 841.3,119.8 825.2,109.4" fill="#e0e0e0"/>
<polygon points="841.3,231.8 862.2,223.8 862.2,111.8 841.3,119.8" fill="#e0e0e0"/>
<polygon points="825.2,109.4 846.1,101.4 862.2,111.8 841.3,119.8" fill="#e0e0e0"/>
<polygon points="799.1,231.4 815.2,241.8 815.2,224.3 799.1,213.9" fill="#e0e0e0"/>
<polygon points="815.2,241.8 836.1,233.8 836.1,216.3 815.2,224.3" fill="#e0e0e0"/>
<polygon points="799.1,213.9 820.0,205.9 836.1,216.3 815.2,224.3" fill="#e0e0e0"/>
<polygon points="773.1,241.4 789.1,251.9 789.1,249.4 773.1,238.9" fill="#d7191f"/>
<polygon points="789.1,251.9 810.0,243.8 810.0,241.3 789.1,249.4" fill="#d7191f"/>
<polygon points="773.1,238.9 793.9,230.9 810.0,241.3 789.1,249.4" fill="#d7191f"/>
<polygon points="747.0,251.4 763.0,261.9 763.0,251.4 747.0,240.9" fill="#d7191f"/>
<polygon points="763.0,261.9 783.9,253.9 783.9,243.4 763.0,251.4" fill="#d7191f"/>
<polygon points="747.0,240.9 767.8,232.9 783.9,243.4 763.0,251.4" fill="#d7191f"/>
<polygon points="720.9,261.4 736.9,271.9 736.9,264.4 720.9,253.9" fill="#d7191f"/>
<polygon points="736.9,271.9 757.8,263.9 757.8,256.4 736.9,264.4" fill="#d7191f"/>
<polygon points="720.9,253.9 741.7,245.9 757.8,256.4 736.9,264.4" fill="#d7191f"/>
<polygon points="694.8,271.5 710.8,281.9 710.8,274.5 694.8,264.1" fill="#d7191f"/>
<polygon points="710.8,281.9 731.7,273.9 731.7,266.5 710.8,274.5" fill="#d7191f"/>
<polygon points="694.8,264.1 715.7,256.1 731.7,266.5 710.8,274.5" fill="#d7191f"/>
<polygon points="668.7,281.5 684.7,291.9 684.7,283.9 668.7,273.5" fill="#d7191f"/>
<polygon points="684.7,291.9 705.6,283.9 705.6,275.9 684.7,283.9" fill="#d7191f"/>
<polygon points="668.7,273.5 689.6,265.5 705.6,275.9 684.7,283.9" fill="#d7191f"/>
<polygon points="642.6,291.5 658.7,301.9 658.7,280.9 642.6,270.5" fill="#d7191f"/>
<polygon points="658.7,301.9 679.5,293.9 679.5,272.9 658.7,280.9" fill="#d7191f"/>
<polygon points="642.6,270.5 663.5,262.5 679.5,272.9 658.7,280.9" fill="#d7191f"/>
<polygon points="616.5,301.5 632.6,311.9 632.6,287.4 616.5,277.0" fill="#d7191f"/>
<polygon points="632.6,311.9 653.4,303.9 653.4,279.4 632.6,287.4" fill="#d7191f"/>
<polygon points="616.5,277.0 637.4,269.0 653.4,279.4 632.6,287.4" fill="#d7191f"/>
<polygon points="590.4,311.5 606.5,321.9 606.5,301.5 590.4,291.1" fill="#d7191f"/>
<polygon points="606.5,321.9 627.4,313.9 627.4,293.5 606.5,301.5" fill="#d7191f"/>
<polygon points="590.4,291.1 611.3,283.1 627.4,293.5 606.5,301.5" fill="#d7191f"/>
<polygon points="564.3,321.5 580.4,331.9 580.4,325.9 564.3,315.5" fill="#86bc3c"/>
<polygon points="580.4,331.9 601.3,323.9 601.3,317.9 580.4,325.9" fill="#86bc3c"/>
<polygon points="564.3,315.5 585.2,307.5 601.3,317.9 580.4,325.9" fill="#86bc3c"/>
<polygon points="538.2,331.5 554.3,341.9 554.3,340.9 538.2,330.5" fill="#86bc3c"/>
<polygon points="554.3,341.9 575.2,333.9 575.2,332.9 554.3,340.9" fill="#86bc3c"/>
<polygon points="538.2,330.5 559.1,322.5 575.2,332.9 554.3,340.9" fill="#86bc3c"/>
<polygon points="512.2,341.5 528.2,352.0 528.2,346.0 512.2,335.5" fill="#86bc3c"/>
<polygon points="528.2,352.0 549.1,343.9 549.1,337.9 528.2,346.0" fill="#86bc3c"/>
<polygon points="512.2,335.5 533.0,327.5 549.1,337.9 528.2,346.0" fill="#86bc3c"/>
<polygon points="486.1,351.5 502.1,362.0 502.1,347.5 486.1,337.0" fill="#86bc3c"/>
<polygon points="502.1,362.0 523.0,354.0 523.0,339.5 502.1,347.5" fill="#86bc3c"/>
<polygon points="486.1,337.0 506.9,329.0 523.0,339.5 502.1,347.5" fill="#86bc3c"/>
<polygon points="460.0,361.5 476.0,372.0 476.0,362.0 460.0,351.5" fill="#86bc3c"/>
<polygon points="476.0,372.0 496.9,364.0 496.9,354.0 476.0,362.0" fill="#86bc3c"/>
<polygon points="460.0,351.5 480.8,343.5 496.9,354.0 476.0,362.0" fill="#86bc3c"/>
<polygon points="433.9,371.6 449.9,382.0 449.9,376.0 433.9,365.6" fill="#86bc3c"/>
<polygon points="449.9,382.0 470.8,374.0 470.8,368.0 449.9,376.0" fill="#86bc3c"/>
<polygon points="433.9,365.6 454.8,357.5 470.8,368.0 449.9,376.0" fill="#86bc3c"/>
<polygon points="407.8,381.6 423.8,392.0 423.8,389.5 407.8,379.1" fill="#86bc3c"/>
<polygon points="423.8,392.0 444.7,384.0 444.7,381.5 423.8,389.5" fill="#86bc3c"/>
<polygon points="407.8,379.1 428.7,371.1 444.7,381.5 423.8,389.5" fill="#86bc3c"/>
<polygon points="381.7,391.6 402.6,383.6 418.6,394.0 397.8,402.0" fill="#4a83ca"/>
<polygon points="355.6,401.6 371.7,412.0 371.7,400.4 355.6,390.0" fill="#4a83ca"/>
<polygon points="371.7,412.0 392.5,404.0 392.5,392.4 371.7,400.4" fill="#4a83ca"/>
<polygon points="355.6,390.0 376.5,382.0 392.5,392.4 371.7,400.4" fill="#4a83ca"/>
<polygon points="329.5,411.6 345.6,422.0 345.6,413.8 329.5,403.4" fill="#4a83ca"/>
<polygon points="345.6,422.0 366.4,414.0 366.4,405.8 345.6,413.8" fill="#4a83ca"/>
<polygon points="329.5,403.4 350.4,395.4 366.4,405.8 345.6,413.8" fill="#4a83ca"/>
<polygon points="303.4,421.6 324.3,413.6 340.4,424.0 319.5,432.0" fill="#4a83ca"/>
<polygon points="277.3,431.6 293.4,442.0 293.4,432.5 277.3,422.1" fill="#4a83ca"/>
<polygon points="293.4,442.0 314.3,434.0 314.3,424.5 293.4,432.5" fill="#4a83ca"/>
<polygon points="277.3,422.1 298.2,414.1 314.3,424.5 293.4,432.5" fill="#4a83ca"/>
</g>
<g font-size="14.68">
<text font-size="14.72" transform="translate(319.0 457.0) rotate(15.0)">Translation ribosomal structure and biogenesis (960, 3.8%)</text>
<text font-size="14.72" transform="translate(342.6 445.4) rotate(15.0)">RNA processing and modification (1, 3.6e-04%)</text>
<text font-size="14.72" transform="translate(369.8 436.8) rotate(15.0)">Transcription (905, 3.6%)</text>
<text font-size="14.72" transform="translate(392.5 426.2) rotate(15.0)">Replication, recombination and repair (935, 3,7%)</text>
<text font-size="14.72" transform="translate(422.4 416.2) rotate(15.0)">Chromatin structure and dynamics (1, 3.6e-04%)</text>
<text font-size="14.72" transform="translate(444.2 405.6) rotate(15.0)">Cell cycle control, cell division, chromosome partitioning (174, 0.7%)</text>
<text font-size="14.72" transform="translate(473.9 395.8) rotate(15.0)">Defense mechanisms (396, 1.6%)</text>
<text font-size="14.72" transform="translate(496.9 384.9) rotate(15.0)">Signal transduction mechanisms (644, 2.6%)</text>
<text font-size="14.72" transform="translate(520.3 376.3) rotate(15.0)">Cell wall/membrane/envelope biogenesis (1152, 4.6%)</text>
<text font-size="14.72" transform="translate(548.3 367.4) rotate(15.0)">Cell motility (467, 1.9%)</text>
<text font-size="14.72" transform="translate(576.3 357.3) rotate(15.0)">Intracellular trafficking, secretion and vesicular transport (196, 0.8%)</text>
<text font-size="14.72" transform="translate(602.4 348.1) rotate(15.0)">Posttranslational modification, protein turnover, chaperones (594, 2.4%)</text>
<text font-size="14.72" transform="translate(624.2 337.1) rotate(15.0)">Energy production and conversion (1523, 6.0%)</text>
<text font-size="14.72" transform="translate(651.0 328.4) rotate(15.0)">Carbohydrate transport and metabolism (1244, 4.9%)</text>
<text font-size="14.72" transform="translate(680.1 316.6) rotate(15.0)">Amino acid transport and metabolism (1619, 6.4%)</text>
<text font-size="14.72" transform="translate(701.3 305.5) rotate(15.0)">Nucleotide transport and metabolism (395, 1.6%)</text>
<text font-size="14.72" transform="translate(730.1 295.5) rotate(15.0)">Coenzyme transport and metabolism (642, 2.6%)</text>
<text font-size="14.72" transform="translate(757.3 285.4) rotate(15.0)">Lipid transport and metabolism (721, 2.9%)</text>
<text font-size="14.72" transform="translate(785.0 274.4) rotate(15.0)">Inorganic ion transport and metabolism (875, 3.5%)</text>
<text font-size="14.72" transform="translate(810.7 262.7) rotate(15.0)">Secondary metabolites biosynthesis, transport and catabolism (287, 1.1%)</text>
<text font-size="14.72" transform="translate(843.5 254.8) rotate(15.0)">General function prediction only (1430, 5.7%)</text>
<text font-size="14.72" transform="translate(865.2 245.7) rotate(15.0)">Function unknown (10040, 39.8%)</text>
<text text-anchor="end" transform="translate(79.8 317.3) rotate(-25)">0.01</text>
<text text-anchor="end" transform="translate(100.5 330.4) rotate(-25)">0.20</text>
<text text-anchor="end" transform="translate(117.8 343.4) rotate(-25)">0.40</text>
<text text-anchor="end" transform="translate(137.3 355.8) rotate(-25)">0.80</text>
<text text-anchor="end" transform="translate(155.8 366.0) rotate(-25)">1.60</text>
<text text-anchor="end" transform="translate(177.2 380.5) rotate(-25)">3.12</text>
<text text-anchor="end" transform="translate(200.9 393.1) rotate(-25)">6.25</text>
<text text-anchor="end" transform="translate(220.2 405.7) rotate(-25)">12.50</text>
<text text-anchor="end" transform="translate(241.5 420.7) rotate(-25)">25</text>
<text text-anchor="end" transform="translate(260.1 434.3) rotate(-25)">50</text>
<text text-anchor="end" transform="translate(284.2 446.4) rotate(-25)">100</text>
<text text-anchor="end" font-size="14.25" x="54.5" y="291.3">0</text>
<text text-anchor="end" font-size="14.25" x="58.0" y="241.9">1000</text>
<text text-anchor="end" font-size="14.25" x="58.0" y="192.4">2000</text>
<text text-anchor="end" font-size="14.25" x="58.0" y="142.9">3000</text>
<text text-anchor="end" font-size="14.25" x="58.0" y="93.5">4000</text>
<text text-anchor="middle" transform="translate(12.5 166) rotate(-90)">No. transferred genes</text>
<rect x="113" y="87.0" width="42" height="14.4" fill="#4a83ca" stroke="#222" stroke-width="1.1"/>
<text x="156.6" y="100.3">Information storage and processing (2802, 11.1%)</text>
<rect x="113" y="107.6" width="42" height="14.4" fill="#86bc3c" stroke="#222" stroke-width="1.1"/>
<text x="156.6" y="120.9">Cellular processes and signaling (3623, 14.4%)</text>
<rect x="113" y="127.6" width="42" height="14.4" fill="#d7191f" stroke="#222" stroke-width="1.1"/>
<text x="156.6" y="140.9">Metabolism (7306, 29%)</text>
<rect x="113" y="148.6" width="42" height="14.4" fill="#e0e0e0" stroke="#222" stroke-width="1.1"/>
<text x="156.6" y="161.9">Unknown (11470, 45.5%)</text>
</g>
<text x="108.5" y="395.7" font-size="17" font-style="italic">S<tspan font-size="10.5" dy="1">gs</tspan></text>
</svg>
</body></html>
